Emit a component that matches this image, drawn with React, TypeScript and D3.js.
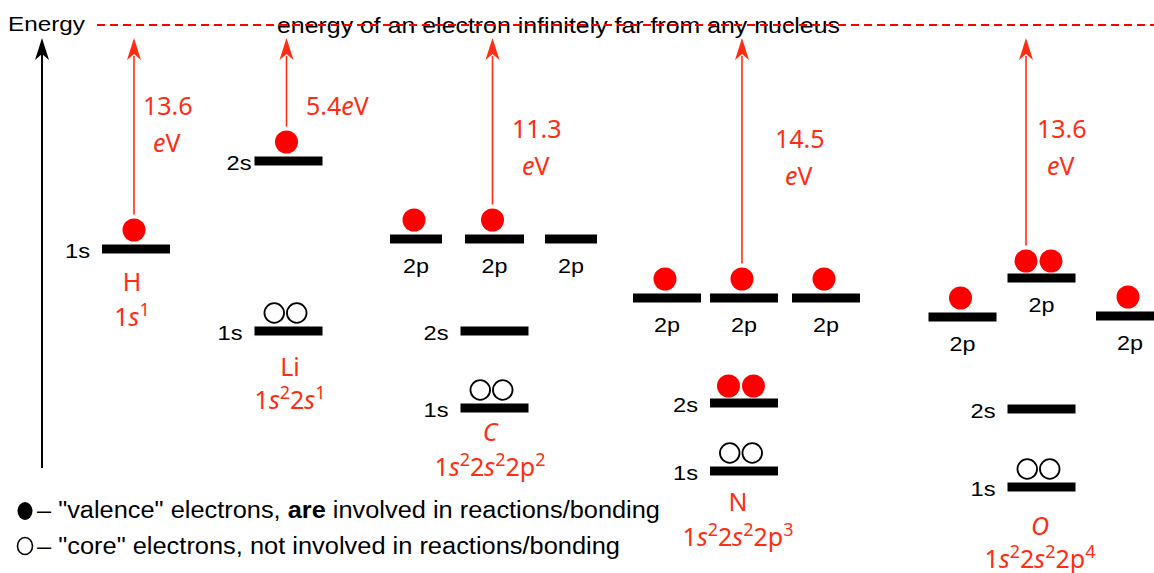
import React from "react";
import * as d3 from "d3";

// ---------- data ----------
const elements = ["H", "Li", "C", "N", "O"];
const elementItalic = [false, false, true, false, true];
// electron configurations: [orbital, count]
const configs: [string, string][][] = [
  [["1s", "1"]],
  [["1s", "2"], ["2s", "1"]],
  [["1s", "2"], ["2s", "2"], ["2p", "2"]],
  [["1s", "2"], ["2s", "2"], ["2p", "3"]],
  [["1s", "2"], ["2s", "2"], ["2p", "4"]],
];
const ionizationEnergies = ["13.6", "5.4", "11.3", "14.5", "13.6"]; // eV

// orbital levels (energy in arbitrary diagram units, 0 = free electron)
type Level = { el: string; orb: string; slot: number; E: number; electrons: number; core: boolean; removed?: boolean };
const levels: Level[] = [
  { el: "H", orb: "1s", slot: 0, E: -44.8, electrons: 1, core: false, removed: true },
  { el: "Li", orb: "2s", slot: 0, E: -27.2, electrons: 1, core: false, removed: true },
  { el: "Li", orb: "1s", slot: 0, E: -61.2, electrons: 2, core: true },
  { el: "C", orb: "2p", slot: -1, E: -42.8, electrons: 1, core: false },
  { el: "C", orb: "2p", slot: 0, E: -42.8, electrons: 1, core: false, removed: true },
  { el: "C", orb: "2p", slot: 1, E: -42.8, electrons: 0, core: false },
  { el: "C", orb: "2s", slot: 0, E: -61.2, electrons: 0, core: false },
  { el: "C", orb: "1s", slot: 0, E: -76.6, electrons: 2, core: true },
  { el: "N", orb: "2p", slot: -1, E: -54.6, electrons: 1, core: false },
  { el: "N", orb: "2p", slot: 0, E: -54.6, electrons: 1, core: false, removed: true },
  { el: "N", orb: "2p", slot: 1, E: -54.6, electrons: 1, core: false },
  { el: "N", orb: "2s", slot: 0, E: -75.6, electrons: 2, core: false },
  { el: "N", orb: "1s", slot: 0, E: -89.2, electrons: 2, core: true },
  { el: "O", orb: "2p", slot: -1, E: -58.4, electrons: 1, core: false },
  { el: "O", orb: "2p", slot: 0, E: -50.6, electrons: 2, core: false, removed: true },
  { el: "O", orb: "2p", slot: 1, E: -58.2, electrons: 1, core: false },
  { el: "O", orb: "2s", slot: 0, E: -76.8, electrons: 0, core: false },
  { el: "O", orb: "1s", slot: 0, E: -92.4, electrons: 2, core: true },
];

const freeLabel = "energy of an electron infinitely far from any nucleus";
const axisLabel = "Energy";
const legendValence = ["– \"valence\" electrons, ", "are", " involved in reactions/bonding"];
const legendCore = "– \"core\" electrons, not involved in reactions/bonding";

// ---------- layout ----------
const W = 1154, H = 573;
const RED = "#ff2d14";
const DOT = "#ff0000";
const colX: Record<string, number> = { H: 136, Li: 288.5, C: 499, N: 743, O: 1041.5 };
const slotDx: Record<string, number[]> = {
  H: [0, 0, 0], Li: [0, 0, 0],
  C: [-83, -4.5, 72], N: [-76, 1, 83], O: [-79, 0, 88.5],
};
const barW = (l: Level) => (l.el === "C" && l.orb === "2p" ? (l.slot === 0 ? 59 : 52) : 68);
const sLabelGap = (l: Level) => (l.el === "Li" && l.orb === "2s" ? 3 : 12);
// red labels: ionization energy & element/config
const ieLayout: Record<string, { x: number; y: number; oneLine?: boolean }> = {
  H: { x: 143, y: 115 }, Li: { x: 306, y: 115, oneLine: true }, C: { x: 512, y: 138 },
  N: { x: 775, y: 148 }, O: { x: 1037, y: 138 },
};
const nameLayout: Record<string, { x: number; y: number; cy: number }> = {
  H: { x: 132, y: 291, cy: 326 }, Li: { x: 290, y: 376, cy: 409 }, C: { x: 490, y: 441, cy: 476 },
  N: { x: 738, y: 511, cy: 546 }, O: { x: 1040, y: 535, cy: 568 },
};

const y = d3.scaleLinear().domain([0, -100]).range([25, 525]);
const xOf = (l: Level) => colX[l.el] + slotDx[l.el][l.slot + 1];

const BLACKFONT = "'Liberation Sans', Arial, sans-serif";
const REDFONT = "'Noto Sans', sans-serif";

function arrowHead(x: number, tip: number, hw: number, len: number, color: string) {
  const p = d3.path();
  p.moveTo(x, tip);
  p.lineTo(x - hw, tip + len);
  p.lineTo(x, tip + len - 6);
  p.lineTo(x + hw, tip + len);
  p.closePath();
  return <path d={p.toString()} fill={color} />;
}

export default function App() {
  const dotR = 11.5;
  return (
    <svg width={W} height={H} style={{ position: "absolute", left: 0, top: 0, background: "#fff" }}>
      {/* energy axis */}
      <line x1={42} x2={42} y1={468} y2={50} stroke="#000" strokeWidth={2} />
      {arrowHead(42, 38, 7, 22, "#000")}
      <text x={8} y={31} fontFamily={BLACKFONT} fontSize={20} textLength={77} lengthAdjust="spacingAndGlyphs">{axisLabel}</text>

      {/* free electron line */}
      <text x={277} y={33} fontFamily={BLACKFONT} fontSize={22} textLength={563} lengthAdjust="spacingAndGlyphs">{freeLabel}</text>
      <line x1={97} x2={W} y1={y(0)} y2={y(0)} stroke={DOT} strokeWidth={2} strokeDasharray="8,5" />

      {/* levels */}
      {levels.map((l, i) => {
        const cx = xOf(l);
        const w = barW(l);
        const yy = y(l.E);
        const items: React.ReactNode[] = [];
        items.push(<rect key="b" x={cx - w / 2} y={yy - 4.5} width={w} height={9} fill="#000" />);
        if (l.orb === "2p") {
          items.push(
            <text key="t" x={cx - 13} y={yy + 34} fontFamily={BLACKFONT} fontSize={21} textLength={26} lengthAdjust="spacingAndGlyphs">{l.orb}</text>
          );
        } else {
          items.push(
            <text key="t" x={cx - w / 2 - sLabelGap(l) - 25} y={yy + 8.5} fontFamily={BLACKFONT} fontSize={21} textLength={25} lengthAdjust="spacingAndGlyphs">{l.orb}</text>
          );
        }
        // electrons
        const offs = l.electrons === 2 ? [-12.5, 12.5] : l.electrons === 1 ? [0] : [];
        const base = l.electrons === 2 ? cx - 3 : cx - 2;
        offs.forEach((o, j) => {
          if (l.core) {
            items.push(
              <circle key={"e" + j} cx={base + o * 0.9} cy={yy - 18} r={9.8} fill="none" stroke="#000" strokeWidth={1.8} />
            );
          } else {
            items.push(<circle key={"e" + j} cx={base + o} cy={yy - (l.electrons === 2 ? 17 : 19)} r={dotR} fill={DOT} />);
          }
        });
        if (l.removed) {
          const ax = base + offs[0];
          const top = yy - (l.electrons === 2 ? 17 : 19) - dotR - 4;
          items.push(<line key="a" x1={ax} x2={ax} y1={top} y2={56} stroke={RED} strokeWidth={1.6} />);
          items.push(<g key="ah">{arrowHead(ax, 38, 7, 22, RED)}</g>);
        }
        return <g key={i}>{items}</g>;
      })}

      {/* ionization energy labels */}
      {elements.map((el, i) => {
        const L = ieLayout[el];
        return L.oneLine ? (
          <text key={el} x={L.x} y={L.y} fill={RED} fontFamily={REDFONT} fontSize={25}>
            {ionizationEnergies[i]}
            <tspan fontStyle="italic">e</tspan>V
          </text>
        ) : (
          <g key={el}>
            <text x={L.x} y={L.y} fill={RED} fontFamily={REDFONT} fontSize={25}>{ionizationEnergies[i]}</text>
            <text x={L.x + 10} y={L.y + 37} fill={RED} fontFamily={REDFONT} fontSize={25}>
              <tspan fontStyle="italic">e</tspan>V
            </text>
          </g>
        );
      })}

      {/* element names and configurations */}
      {elements.map((el, i) => {
        const L = nameLayout[el];
        return (
          <g key={"n" + el} fill={RED} fontFamily={REDFONT}>
            <text x={L.x} y={L.y} fontSize={25} textAnchor="middle" fontStyle={elementItalic[i] ? "italic" : "normal"}>{el}</text>
            <text x={L.x} y={L.cy} fontSize={25} textAnchor="middle">
              {configs[i].map(([orb, n], k) => (
                <React.Fragment key={k}>
                  <tspan dy={k === 0 ? 0 : 10}>{orb[0]}</tspan>
                  <tspan fontStyle={orb[1] === "s" ? "italic" : "normal"}>{orb[1]}</tspan>
                  <tspan fontSize={18} dy={-10}>{n}</tspan>
                </React.Fragment>
              ))}
            </text>
          </g>
        );
      })}

      {/* legend */}
      <ellipse cx={25} cy={511} rx={7.5} ry={9} fill="#000" />
      <text x={37} y={518} fontFamily={BLACKFONT} fontSize={23} textLength={623} lengthAdjust="spacingAndGlyphs">
        {legendValence[0]}<tspan fontWeight="bold">{legendValence[1]}</tspan>{legendValence[2]}
      </text>
      <ellipse cx={25} cy={546} rx={7.5} ry={8.5} fill="none" stroke="#000" strokeWidth={1.6} />
      <text x={37} y={554} fontFamily={BLACKFONT} fontSize={23} textLength={583} lengthAdjust="spacingAndGlyphs">
        {legendCore}
      </text>
    </svg>
  );
}
